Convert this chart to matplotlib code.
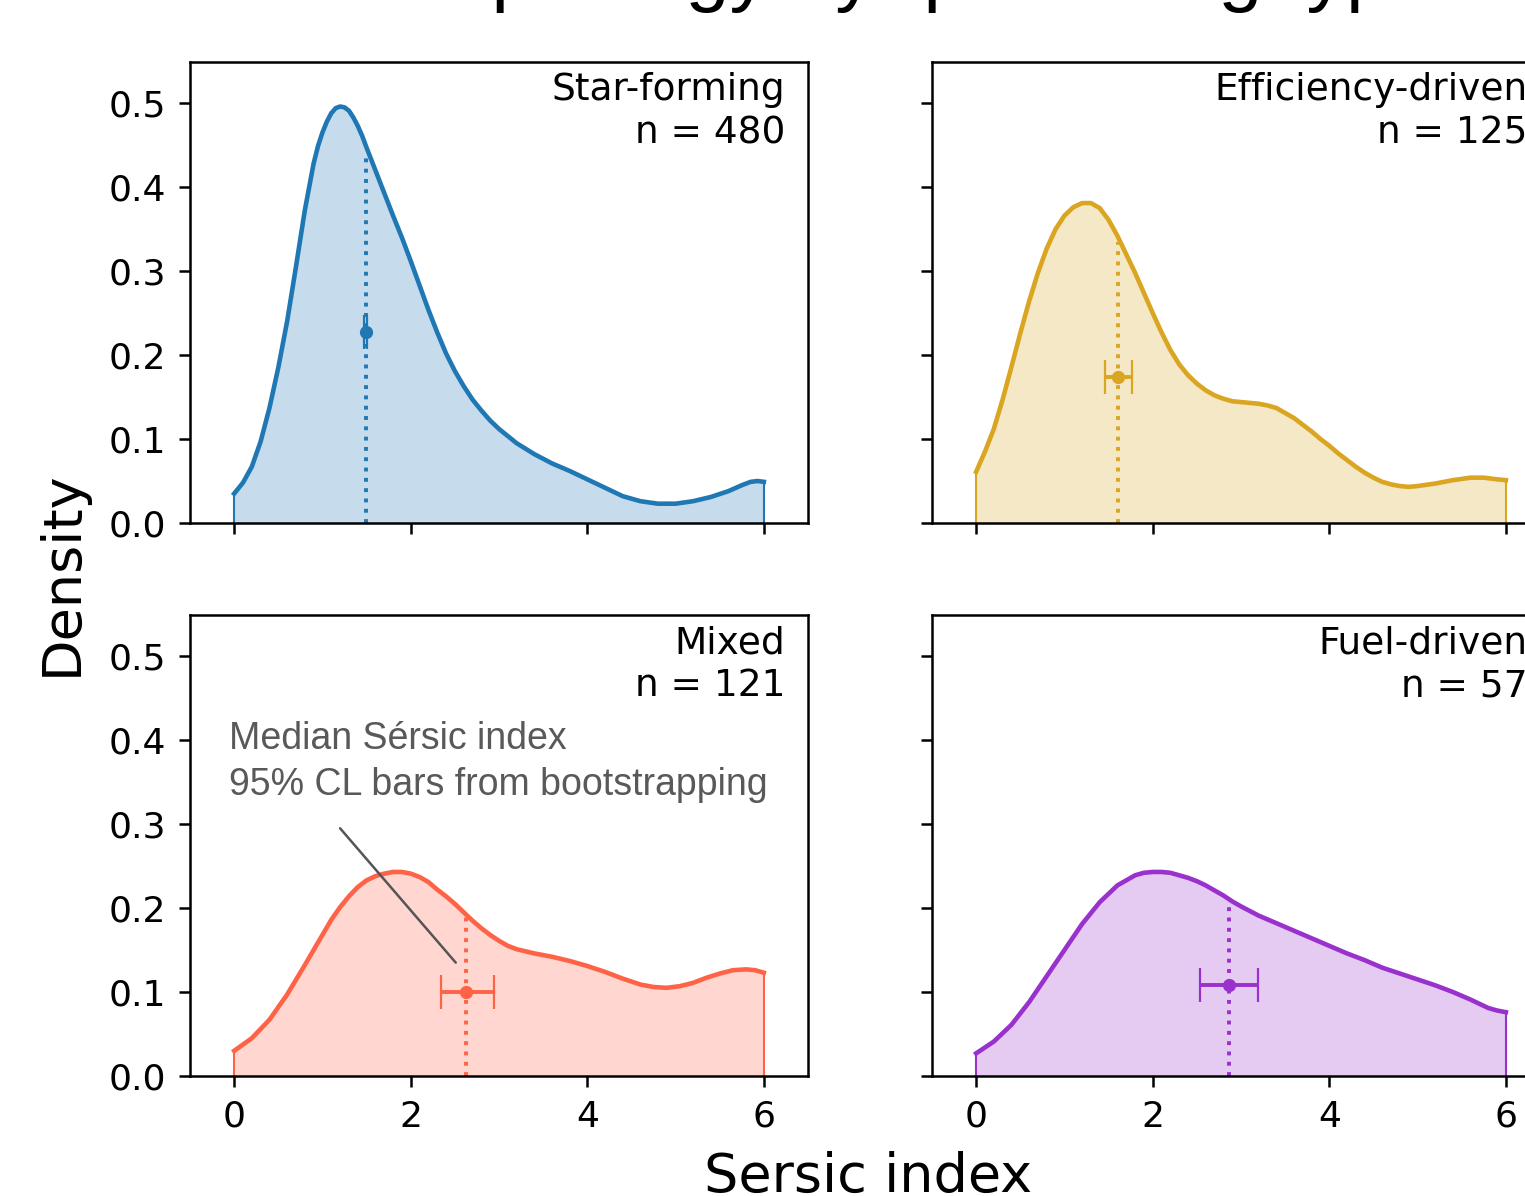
import matplotlib
matplotlib.use("Agg")
import matplotlib.pyplot as plt

# KDE curves (Sersic index, density)
sf_x = [0.0, 0.1, 0.2, 0.3, 0.4, 0.5, 0.6, 0.7, 0.8, 0.9, 0.95, 1.0, 1.05, 1.1, 1.15, 1.2, 1.25, 1.3,
        1.35, 1.4, 1.45, 1.5, 1.6, 1.7, 1.8, 1.9, 2.0, 2.1, 2.2, 2.3, 2.4, 2.5, 2.6, 2.7, 2.8, 2.9,
        3.0, 3.2, 3.4, 3.6, 3.8, 4.0, 4.2, 4.4, 4.6, 4.8, 5.0, 5.2, 5.4, 5.6, 5.75, 5.85, 5.93, 6.0]
sf_y = [0.035, 0.048, 0.067, 0.097, 0.137, 0.185, 0.24, 0.305, 0.372, 0.428, 0.449, 0.465, 0.478,
        0.488, 0.494, 0.496, 0.495, 0.491, 0.483, 0.473, 0.461, 0.447, 0.42, 0.393, 0.366, 0.34,
        0.312, 0.283, 0.254, 0.227, 0.202, 0.181, 0.163, 0.147, 0.134, 0.122, 0.112, 0.095, 0.082,
        0.071, 0.062, 0.052, 0.042, 0.032, 0.026, 0.023, 0.023, 0.026, 0.031, 0.038, 0.045, 0.049,
        0.05, 0.049]

ef_x = [0.0, 0.1, 0.2, 0.3, 0.4, 0.5, 0.6, 0.7, 0.8, 0.9, 1.0, 1.1, 1.2, 1.3, 1.4, 1.5, 1.6, 1.7,
        1.8, 1.9, 2.0, 2.1, 2.2, 2.3, 2.4, 2.5, 2.6, 2.7, 2.8, 2.9, 3.0, 3.1, 3.2, 3.3, 3.4, 3.5,
        3.6, 3.7, 3.8, 3.9, 4.0, 4.1, 4.2, 4.3, 4.4, 4.5, 4.6, 4.7, 4.8, 4.9, 5.0, 5.2, 5.4, 5.6,
        5.75, 5.9, 6.0]
ef_y = [0.061, 0.085, 0.112, 0.147, 0.186, 0.226, 0.264, 0.298, 0.327, 0.350, 0.366, 0.376, 0.381,
        0.381, 0.375, 0.361, 0.342, 0.32, 0.298, 0.274, 0.25, 0.227, 0.206, 0.189, 0.176, 0.166,
        0.158, 0.152, 0.148, 0.145, 0.144, 0.143, 0.142, 0.14, 0.137, 0.131, 0.125, 0.117, 0.109,
        0.1, 0.092, 0.083, 0.075, 0.067, 0.06, 0.054, 0.049, 0.046, 0.044, 0.043, 0.044, 0.047,
        0.051, 0.054, 0.054, 0.052, 0.051]

mx_x = [0.0, 0.2, 0.4, 0.6, 0.8, 1.0, 1.1, 1.2, 1.3, 1.4, 1.5, 1.6, 1.7, 1.8, 1.9, 2.0, 2.1, 2.2,
        2.3, 2.4, 2.5, 2.6, 2.7, 2.8, 2.9, 3.0, 3.1, 3.2, 3.4, 3.6, 3.8, 4.0, 4.2, 4.4, 4.6, 4.75,
        4.9, 5.05, 5.2, 5.35, 5.5, 5.65, 5.8, 5.9, 6.0]
mx_y = [0.03, 0.045, 0.067, 0.097, 0.132, 0.168, 0.186, 0.201, 0.214, 0.225, 0.233, 0.238, 0.241,
        0.243, 0.243, 0.241, 0.237, 0.231, 0.222, 0.214, 0.205, 0.195, 0.185, 0.176, 0.168, 0.161,
        0.155, 0.151, 0.146, 0.142, 0.137, 0.131, 0.124, 0.116, 0.109, 0.106, 0.105, 0.107, 0.111,
        0.117, 0.122, 0.126, 0.127, 0.126, 0.123]

fu_x = [0.0, 0.2, 0.4, 0.6, 0.8, 1.0, 1.2, 1.4, 1.6, 1.8, 1.9, 2.0, 2.1, 2.2, 2.3, 2.4, 2.5, 2.6,
        2.7, 2.8, 2.9, 3.0, 3.2, 3.4, 3.6, 3.8, 4.0, 4.2, 4.4, 4.6, 4.8, 5.0, 5.2, 5.4, 5.6, 5.8,
        5.9, 6.0]
fu_y = [0.027, 0.041, 0.061, 0.088, 0.119, 0.15, 0.181, 0.207, 0.227, 0.239, 0.242, 0.243, 0.243,
        0.242, 0.239, 0.236, 0.232, 0.227, 0.221, 0.215, 0.208, 0.202, 0.191, 0.182, 0.173, 0.164,
        0.155, 0.146, 0.138, 0.129, 0.122, 0.115, 0.108, 0.1, 0.091, 0.081, 0.078, 0.076]

names = ["Star-forming", "Efficiency-driven", "Mixed", "Fuel-driven"]
counts = [480, 125, 121, 57]
colors = ["#1f77b4", "#daa520", "tomato", "#9932cc"]

# median, density at median, marker height, 95% CL bounds
medians = [1.49, 1.61, 2.63, 2.86]
median_dens = [0.44, 0.335, 0.192, 0.208]
marker_y = [0.228, 0.174, 0.10, 0.108]
ci_lo = [1.47, 1.46, 2.34, 2.53]
ci_hi = [1.51, 1.77, 2.94, 3.19]

curves = [(sf_x, sf_y), (ef_x, ef_y), (mx_x, mx_y), (fu_x, fu_y)]

plt.rcParams["font.family"] = "DejaVu Sans"
fig = plt.figure(figsize=(15.25, 11.96), dpi=100)

W, H = 1525, 1196
lefts = [190, 932, 190, 932]
bottoms = [523, 523, 1076, 1076]
aw, ah = 618, 461

axes = []
for i in range(4):
    ax = fig.add_axes([lefts[i] / W, (H - bottoms[i]) / H, aw / W, ah / H])
    axes.append(ax)
    xs, ys = curves[i]
    c = colors[i]
    ax.fill_between(xs, ys, 0, color=c, alpha=0.25, linewidth=0)
    ax.plot([xs[0], xs[0]], [0, ys[0]], color=c, lw=1.5)
    ax.plot([xs[-1], xs[-1]], [0, ys[-1]], color=c, lw=1.5)
    ax.plot(xs, ys, color=c, lw=3.3, solid_joinstyle="round")
    ax.vlines(medians[i], 0, median_dens[i], colors=c, linestyles=":", lw=2.8)
    ax.errorbar(medians[i], marker_y[i], xerr=[[medians[i] - ci_lo[i]], [ci_hi[i] - medians[i]]],
                fmt="o", color=c, ms=8.5, elinewidth=2.8, capsize=12, capthick=1.6)
    ax.text(0.963, 0.978, f"{names[i]}\nn = {counts[i]}", transform=ax.transAxes,
            ha="right", va="top", fontsize=27, linespacing=1.25)

    ax.set_xlim(-0.5, 6.5)
    ax.set_ylim(0, 0.549)
    ax.set_xticks([0, 2, 4, 6])
    ax.set_yticks([0.0, 0.1, 0.2, 0.3, 0.4, 0.5])
    ax.set_yticklabels(["0.0", "0.1", "0.2", "0.3", "0.4", "0.5"])
    ax.tick_params(labelsize=26, length=8, width=1.8, pad=9)
    for s in ax.spines.values():
        s.set_linewidth(1.8)
    if i < 2:
        ax.tick_params(labelbottom=False)
    if i % 2 == 1:
        ax.tick_params(labelleft=False)

# annotation in the Mixed panel
axes[2].annotate("", xy=(2.51, 0.135), xytext=(1.2, 0.295),
                 arrowprops=dict(arrowstyle="-", color="#555555", lw=1.8, shrinkA=0, shrinkB=0))
axes[2].text(-0.06, 0.423, "Median Sérsic index\n95% CL bars from bootstrapping",
             fontsize=27, family="Liberation Sans", color="#595959", ha="left", va="top",
             linespacing=1.35)

fig.text(62 / W, 1 - 573 / H, "Density", rotation=90, fontsize=39, ha="center", va="center")
fig.text(868 / W, 0.003, "Sersic index", fontsize=39, ha="center", va="baseline")
fig.text(895 / W, 1 + 4 / H, "Morphology by quenching type", fontsize=57, family="Liberation Sans",
         ha="center", va="baseline")

fig.savefig("out.png", dpi=100)
